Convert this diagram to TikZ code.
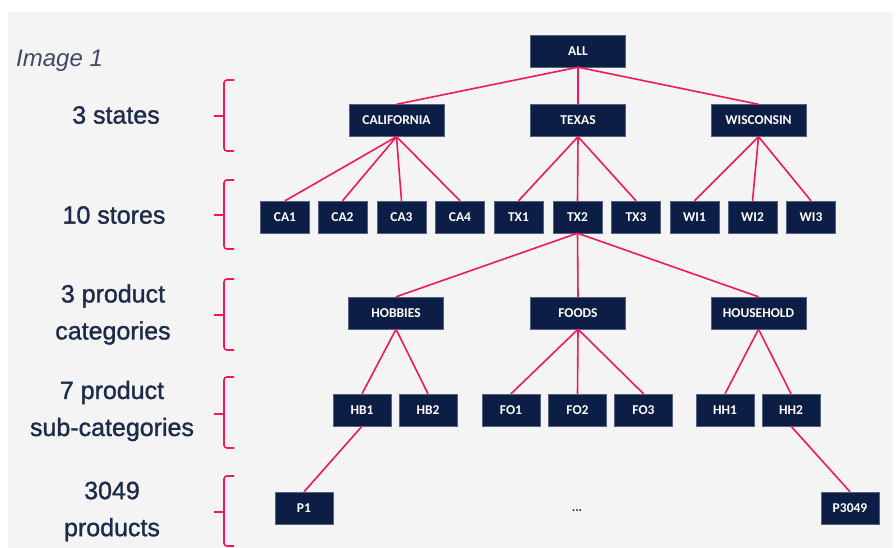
\documentclass[tikz,border=0pt]{standalone}
\usepackage{fontspec}
\setmainfont{Liberation Sans}
\newfontfamily\lblfont[FakeBold=1.2]{Liberation Sans}
\newfontfamily\boxfont{Carlito}
\definecolor{navy}{HTML}{0C1E45}
\definecolor{pinkline}{HTML}{F0195C}
\definecolor{labeltext}{HTML}{1C2B4A}
\definecolor{bggray}{HTML}{F4F4F4}
\begin{document}
\begin{tikzpicture}[x=1pt,y=-1pt,
  box/.style={fill=navy,draw=navy!70!white,line width=0.4pt,text=white,font=\boxfont\bfseries\fontsize{13.5}{15}\selectfont,inner sep=0pt,minimum height=32pt},
  wide/.style={box,minimum width=95pt},
  small/.style={box,minimum width=49pt},
  prod/.style={box,minimum width=58pt},
  link/.style={draw=pinkline,line width=1.6pt},
  bracket/.style={draw=pinkline,line width=1.6pt,rounded corners=3pt},
  lbl/.style={text=labeltext,font=\lblfont\fontsize{25}{37}\selectfont,align=center,inner sep=0pt}
]
\useasboundingbox (0,0) rectangle (896,548);
\fill[white] (0,0) rectangle (896,548);
\fill[bggray] (8,12) rectangle (893,548);

% level 0 and 1
\node[wide] (all) at (578,51) {ALL};
\node[wide] (ca) at (396.5,120.5) {CALIFORNIA};
\node[wide] (tx) at (578,120.5) {TEXAS};
\node[wide] (wi) at (758.5,120.5) {WISCONSIN};

% stores
\node[small] (ca1) at (285,217) {CA1};
\node[small] (ca2) at (342.5,217) {CA2};
\node[small] (ca3) at (401.5,217) {CA3};
\node[small] (ca4) at (460,217) {CA4};
\node[small] (tx1) at (518.5,217) {TX1};
\node[small] (tx2) at (577.5,217) {TX2};
\node[small] (tx3) at (636,217) {TX3};
\node[small] (wi1) at (694.5,217) {WI1};
\node[small] (wi2) at (752.5,217) {WI2};
\node[small] (wi3) at (811,217) {WI3};

% categories
\node[wide] (hob) at (396,313) {HOBBIES};
\node[wide] (foo) at (578,313) {FOODS};
\node[wide] (hou) at (758.5,313) {HOUSEHOLD};

% sub-categories
\node[prod] (hb1) at (362,410) {HB1};
\node[prod] (hb2) at (428,410) {HB2};
\node[prod] (fo1) at (511,410) {FO1};
\node[prod] (fo2) at (577.5,410) {FO2};
\node[prod] (fo3) at (643.5,410) {FO3};
\node[prod] (hh1) at (725,410) {HH1};
\node[prod] (hh2) at (791,410) {HH2};

% products
\node[prod] (p1) at (304,508) {P1};
\node[prod] (p3049) at (850,508) {P3049};
\node[text=labeltext,font=\boxfont\bfseries\fontsize{13}{14}\selectfont,inner sep=0pt] (dots) at (577,511) {...};

% connectors
\foreach \p/\c in {all/ca,all/tx,all/wi,
  ca/ca1,ca/ca2,ca/ca3,ca/ca4,
  tx/tx1,tx/tx2,tx/tx3,
  wi/wi1,wi/wi2,wi/wi3,
  tx2/hob,tx2/foo,tx2/hou,
  hob/hb1,hob/hb2,
  foo/fo1,foo/fo2,foo/fo3,
  hou/hh1,hou/hh2,
  hb1/p1,hh2/p3049}
  \draw[link] (\p.south) -- (\c.north);

% brackets
\foreach \a/\m/\b in {80/116/151, 180/215/249, 279/315/350, 377/414/448, 476/512/546}{
  \draw[bracket] (234,\a) -- (224,\a) -- (224,\b) -- (234,\b);
  \draw[pinkline,line width=1.6pt] (224,\m) -- (214,\m);
}

% labels
\node[anchor=west,inner sep=0pt,text=labeltext!85!white,font=\itshape\fontsize{24}{28}\selectfont] (img) at (16,61) {Image 1};
\node[lbl] (l1) at (116,115) {3 states};
\node[lbl] (l2) at (114,215) {10 stores};
\node[lbl] (l3) at (113,314.5) {3 product\\categories};
\node[lbl] (l4) at (112,411) {7 product\\sub-categories};
\node[lbl] (l5) at (112,511.5) {3049\\products};
\end{tikzpicture}
\end{document}
